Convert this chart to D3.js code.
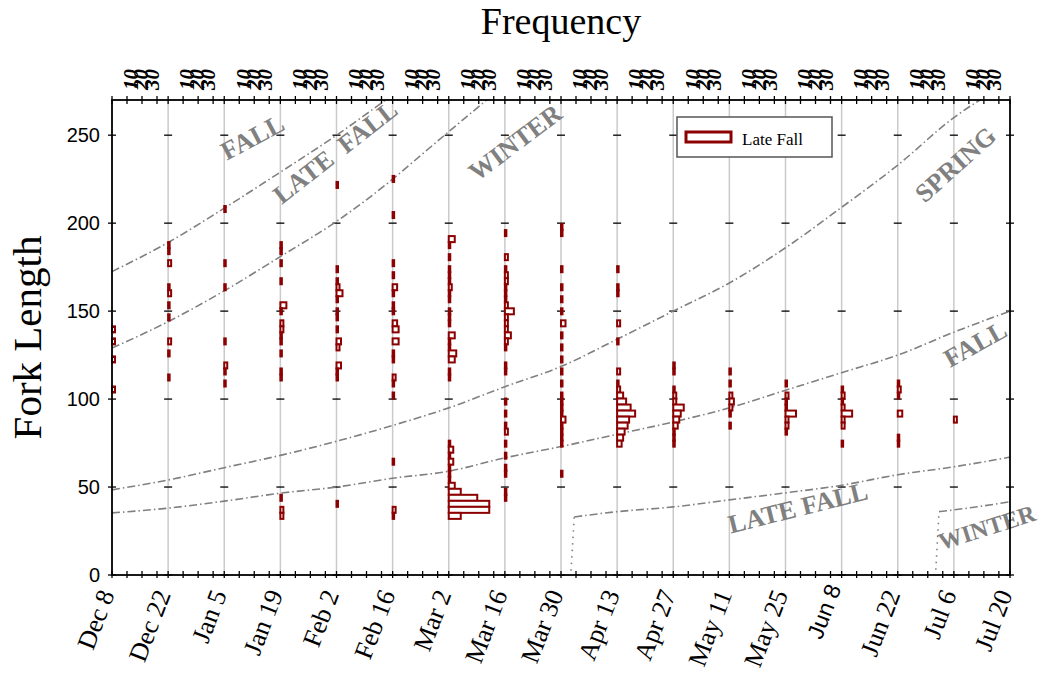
<!DOCTYPE html>
<html><head><meta charset="utf-8">
<script src="https://cdn.jsdelivr.net/npm/d3@7"></script>
<style>body{margin:0;background:#fff}svg{display:block}</style>
</head><body><svg id="chart" width="1042" height="674"></svg>
<script>
// ---------------- DATA ----------------
const columnLabels = ["Dec 8","Dec 22","Jan 5","Jan 19","Feb 2","Feb 16","Mar 2","Mar 16","Mar 30","Apr 13","Apr 27","May 11","May 25","Jun 8","Jun 22","Jul 6","Jul 20"];
const columnDays = [0,14,28,42,56,70,84,98,112,126,140,154,168,182,196,210,224];
const lengthTicks = [0,50,100,150,200,250];
const freqTicks = [10,20,30];
const freqTickLabels = ["10","20","30"];
const binWidth = 3.42;
const binOrigin = 1.12;

// [fork length (bin mid), frequency]
const histDec8  = [[139.6,2],[132.8,2],[122.5,2],[105.4,2]];
const histDec22 = [[187.5,1],[184.1,1],[177.3,2],[163.6,1],[160.2,2],[153.3,1],[146.5,1],[132.8,2],[125.9,1],[112.3,1]];
const histJan5  = [[208.0,1],[177.3,1],[163.6,1],[132.8,1],[119.1,2],[115.7,1],[108.9,1]];
const histJan19 = [[187.5,1],[184.1,1],[177.3,1],[167.0,1],[153.3,4],[149.9,1],[143.0,2],[139.6,2],[136.2,1],[132.8,1],[125.9,1],[115.7,1],[112.3,1],[43.9,1],[37.0,2],[33.6,2]];
const histFeb2  = [[221.7,1],[173.8,1],[167.0,1],[163.6,2],[160.2,4],[156.7,1],[149.9,1],[146.5,1],[139.6,1],[132.8,3],[129.4,2],[119.1,3],[115.7,1],[112.3,1],[40.4,1]];
const histFeb16 = [[225.1,1],[204.6,1],[177.3,1],[170.4,1],[163.6,3],[160.2,1],[153.3,1],[149.9,1],[143.0,3],[139.6,4],[132.8,4],[125.9,1],[122.5,1],[112.3,2],[108.9,1],[102.0,1],[64.4,1],[37.0,2],[33.6,1]];
const histMar2  = [[190.9,4],[187.5,1],[180.7,1],[173.8,1],[170.4,1],[167.0,1],[163.6,2],[160.2,1],[156.7,1],[149.9,1],[146.5,1],[143.0,1],[136.2,4],[132.8,1],[129.4,1],[125.9,5],[122.5,4],[115.7,1],[112.3,1],[74.6,1],[71.2,3],[67.8,1],[64.4,3],[61.0,1],[57.5,1],[54.1,1],[50.7,4],[47.3,8],[43.9,19],[40.4,27],[37.0,27],[33.6,8]];
const histMar16 = [[194.4,1],[180.7,2],[173.8,1],[170.4,2],[167.0,2],[163.6,1],[160.2,1],[156.7,1],[153.3,2],[149.9,6],[146.5,2],[143.0,2],[139.6,2],[136.2,4],[132.8,2],[129.4,1],[119.1,1],[115.7,1],[98.6,1],[91.7,1],[84.9,1],[81.5,2],[74.6,1],[67.8,1],[61.0,1],[57.5,1],[47.3,1],[43.9,1]];
const histMar30 = [[197.8,1],[194.4,1],[173.8,1],[163.6,1],[156.7,1],[149.9,1],[143.0,3],[136.2,1],[129.4,1],[122.5,1],[115.7,1],[108.9,1],[102.0,1],[98.6,1],[95.2,1],[91.7,1],[88.3,3],[84.9,1],[81.5,1],[78.1,1],[74.6,1],[57.5,1]];
const histApr13 = [[173.8,1],[163.6,1],[160.2,1],[143.0,2],[132.8,1],[115.7,2],[108.9,1],[105.4,2],[102.0,4],[98.6,6],[95.2,9],[91.7,12],[88.3,8],[84.9,7],[81.5,5],[78.1,4],[74.6,3]];
const histApr27 = [[119.1,1],[115.7,1],[105.4,1],[102.0,2],[98.6,2],[95.2,7],[91.7,5],[88.3,4],[84.9,3],[81.5,1],[78.1,1],[74.6,1]];
const histMay11 = [[115.7,1],[108.9,1],[102.0,2],[98.6,3],[95.2,2],[91.7,1],[84.9,1]];
const histMay25 = [[108.9,1],[102.0,2],[98.6,1],[95.2,1],[91.7,7],[88.3,2],[84.9,2],[81.5,1]];
const histJun8  = [[105.4,1],[102.0,2],[98.6,1],[95.2,2],[91.7,7],[88.3,2],[84.9,2],[74.6,1]];
const histJun22 = [[108.9,1],[105.4,2],[102.0,1],[91.7,3],[78.1,1],[74.6,1]];
const histJul6  = [[88.3,2]];
const histJul20 = [];
const histograms = [histDec8,histDec22,histJan5,histJan19,histFeb2,histFeb16,histMar2,histMar16,histMar30,histApr13,histApr27,histMay11,histMay25,histJun8,histJun22,histJul6,histJul20];

// run-size criteria curves: [days since Dec 8, fork length]
const curveFallUpper = [[0,172.5],[14,189],[28,208.5],[42,229],[56,250],[70,273]];
const curveLateFallUpper = [[0,129],[14,144],[28,161.5],[42,181],[56,201],[70,225],[77,238.5],[84,252],[94,271]];
const curveWinterUpper = [[0,48.4],[14,54],[28,61],[42,68],[56,76],[70,85],[84,95],[98,107],[112,118.5],[126,134],[140,150],[154,166],[168,186],[182,209],[196,233],[210,260],[220,275]];
const curveFallLower = [[0,35.3],[14,38],[28,42],[42,46.5],[56,50],[70,55],[84,59],[98,66.6],[112,73],[126,80],[140,87],[154,95],[168,105],[182,115],[196,125],[210,138],[224,150]];
const curveLateFallStart = [[114.5,2.5],[115.3,33]];
const curveLateFallLower = [[115.3,33],[126,36],[140,38.7],[154,42.7],[168,46.7],[182,51],[196,57],[210,61.5],[224,67]];
const curveWinterStart = [[205.5,3],[206.3,36]];
const curveWinterLower = [[206.3,36],[215,38.5],[224,41.6]];

const seasonNames = ["FALL","LATE  FALL","WINTER","SPRING","FALL","LATE FALL","WINTER"];
const legendLabel = "Late Fall";

// ---------------- DRAW ----------------
const W = 1042, H = 674;
const M = {l:112, r:32, t:100, b:99};
const svg = d3.select("#chart");
const x = d3.scaleLinear().domain([0,224]).range([M.l, W - M.r]);
const y = d3.scaleLinear().domain([0,270]).range([H - M.b, M.t]);
const f = d3.scaleLinear().domain([0,10]).range([0,15]);
const RED = "#8B0000", GRAY = "#808080";
const serif = "'Liberation Serif','Times New Roman',serif";
const sans = "'Liberation Sans',Arial,sans-serif";

svg.append("defs").append("clipPath").attr("id","plotclip")
  .append("rect").attr("x",M.l).attr("y",M.t).attr("width",x.range()[1]-M.l).attr("height",y.range()[0]-M.t);

// gray column lines
svg.append("g").selectAll("line").data(columnDays.slice(1,-1)).join("line")
  .attr("x1",d=>x(d)).attr("x2",d=>x(d)).attr("y1",y.range()[1]).attr("y2",y.range()[0])
  .attr("stroke","#cacaca").attr("stroke-width",1.5);

// column length ticks
const tickG = svg.append("g").attr("stroke","#000").attr("stroke-width",1.3);
columnDays.forEach(c => {
  lengthTicks.forEach(t => {
    tickG.append("line").attr("x1",x(c)-4).attr("x2",x(c)+4).attr("y1",y(t)).attr("y2",y(t));
  });
});
// frequency ticks top & bottom
columnDays.forEach((c,i) => {
  [0].concat(freqTicks).forEach(t => {
    const xx = x(c)+f(t);
    if (xx > x.range()[1]+0.5) return;
    tickG.append("line").attr("x1",xx).attr("x2",xx).attr("y1",M.t-4).attr("y2",M.t+4);
    tickG.append("line").attr("x1",xx).attr("x2",xx).attr("y1",y(0)-4).attr("y2",y(0)+3);
  });
});

// curves
const line = d3.line().x(d=>x(d[0])).y(d=>y(d[1])).curve(d3.curveMonotoneX);
const lineStraight = d3.line().x(d=>x(d[0])).y(d=>y(d[1]));
const cg = svg.append("g").attr("clip-path","url(#plotclip)").attr("fill","none").attr("stroke",GRAY).attr("stroke-width",1.6);
[curveFallUpper,curveLateFallUpper,curveWinterUpper,curveFallLower,curveLateFallLower,curveWinterLower].forEach(c=>{
  cg.append("path").attr("d",line(c)).attr("stroke-dasharray","8,3,1.5,3");
});
[curveLateFallStart,curveWinterStart].forEach(c=>{
  cg.append("path").attr("d",lineStraight(c)).attr("stroke-dasharray","1.5,5");
});

// season labels: [day, length, angle, size]
const seasonPos = [[35,249,-28,26],[55.6,240.5,-38,26],[100.5,246,-37,26],[210.3,233.5,-42,26],[215.3,131.5,-29,26],[171.1,38.5,-14,26],[218.2,27.2,-17.5,24]];
const sg = svg.append("g");
seasonNames.forEach((s,i)=>{
  const p = seasonPos[i];
  sg.append("text").attr("transform",`translate(${x(p[0])},${y(p[1])}) rotate(${p[2]})`)
    .attr("text-anchor","middle").attr("dy","0.35em")
    .style("white-space","pre")
    .attr("font-family",serif).attr("font-weight","bold").attr("font-size",p[3])
    .attr("fill",GRAY).text(s);
});

// histograms
const snap = v => binOrigin + Math.floor((v - binOrigin)/binWidth)*binWidth;
const hg = svg.append("g").attr("fill","#fff").attr("stroke",RED).attr("stroke-width",2);
histograms.forEach((h,i)=>{
  const c = columnDays[i];
  hg.selectAll(null).data(h).join("rect")
    .attr("x",x(c))
    .attr("y",d=>y(snap(d[0])+binWidth))
    .attr("width",d=>f(d[1]))
    .attr("height",d=>y(snap(d[0]))-y(snap(d[0])+binWidth));
});

// frame
svg.append("rect").attr("x",M.l).attr("y",M.t).attr("width",x.range()[1]-M.l).attr("height",y.range()[0]-M.t)
  .attr("fill","none").attr("stroke","#000").attr("stroke-width",1.8);

// y axis labels
svg.append("g").selectAll("text").data(lengthTicks).join("text")
  .attr("x",M.l-12).attr("y",d=>y(d)).attr("dy","0.36em").attr("text-anchor","end")
  .attr("font-family",sans).attr("font-size",20).text(d=>d);

// x axis labels
svg.append("g").selectAll("text").data(columnLabels).join("text")
  .attr("transform",(d,i)=>`translate(${x(columnDays[i])+ (d==="Jun 8"?0:3)},${d==="Jun 8"?588:594}) rotate(-69)`)
  .attr("text-anchor","end")
  .attr("font-family",d=>d==="Jun 8"?sans:serif)
  .attr("font-size",d=>d==="Jun 8"?23:26).text(d=>d);

// top frequency labels
const fl = svg.append("g");
columnDays.slice(0,-1).forEach(c=>{
  freqTicks.forEach((t,k)=>{
    fl.append("text").attr("transform",`translate(${x(c)+f(t)+[4,-1,-5][k]},90) rotate(-90)`)
      .attr("dy","0.35em").attr("font-family",serif).attr("font-weight","bold").attr("font-style","italic")
      .attr("font-size",21).text(freqTickLabels[k]);
  });
});

// titles
svg.append("text").attr("x",(M.l+x.range()[1])/2).attr("y",34).attr("text-anchor","middle")
  .attr("font-family",serif).attr("font-size",38).text("Frequency");
svg.append("text").attr("transform",`translate(41,${(M.t+y.range()[0])/2}) rotate(-90)`).attr("text-anchor","middle")
  .attr("font-family",serif).attr("font-size",41).text("Fork Length");

// legend
const lg = svg.append("g");
lg.append("rect").attr("x",677).attr("y",117).attr("width",155).attr("height",40).attr("fill","#fff").attr("stroke","#555").attr("stroke-width",1.5);
lg.append("rect").attr("x",686).attr("y",132).attr("width",45).attr("height",10).attr("fill","#fff").attr("stroke",RED).attr("stroke-width",3);
lg.append("text").attr("x",742).attr("y",143).attr("dy","0.1em").attr("font-family",serif).attr("font-size",17).text(legendLabel);
</script></body></html>
